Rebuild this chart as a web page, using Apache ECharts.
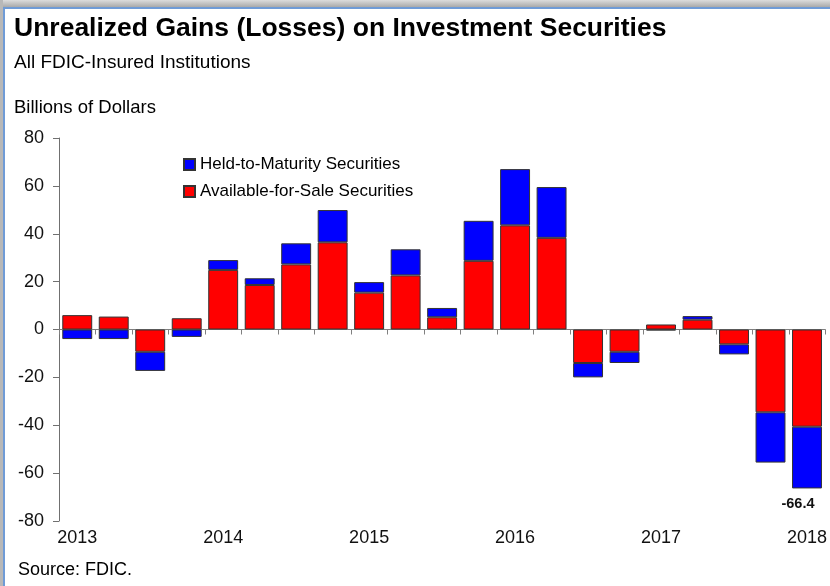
<!DOCTYPE html>
<html>
<head>
<meta charset="utf-8">
<script src="https://cdn.jsdelivr.net/npm/echarts@6/dist/echarts.min.js"></script>
<style>
  html, body { margin: 0; padding: 0; background: #fff; }
  #chart { width: 830px; height: 586px; }
</style>
</head>
<body>
<div id="chart"></div>
<script>
// Quarterly unrealized gains (losses), billions of dollars, 2013 Q1 – 2018 Q1
const quarters = [
  '2013 Q1', '2013 Q2', '2013 Q3', '2013 Q4',
  '2014 Q1', '2014 Q2', '2014 Q3', '2014 Q4',
  '2015 Q1', '2015 Q2', '2015 Q3', '2015 Q4',
  '2016 Q1', '2016 Q2', '2016 Q3', '2016 Q4',
  '2017 Q1', '2017 Q2', '2017 Q3', '2017 Q4',
  '2018 Q1'
];
const yearLabels = {
  '2013 Q1': '2013', '2014 Q1': '2014', '2015 Q1': '2015',
  '2016 Q1': '2016', '2017 Q1': '2017', '2018 Q1': '2018'
};
const availableForSale = [
  6.0, 5.4, -9.3, 4.7,
  24.9, 18.6, 27.2, 36.4,
  15.4, 22.6, 5.1, 28.7,
  43.5, 38.3, -14.0, -9.3,
  2.1, 4.1, -6.2, -34.6,
  -40.6
];
const heldToMaturity = [
  -4.0, -4.0, -8.0, -3.1,
  4.1, 2.8, 8.8, 13.5,
  4.4, 10.9, 3.9, 16.7,
  23.5, 21.2, -6.0, -4.7,
  -0.4, 1.5, -4.2, -21.0,
  -25.8
];
// Only the latest quarter carries a total label
const labelledIndex = 20;

const FONT = '"Liberation Sans", Arial, sans-serif';
const chart = echarts.init(document.getElementById('chart'), null, { renderer: 'canvas' });

const barBorder = { borderColor: '#333', borderWidth: 1 };

chart.setOption({
  backgroundColor: '#fff',
  animation: false,
  textStyle: { fontFamily: FONT },
  graphic: [
    // window frame
    { type: 'rect', shape: { x: 0, y: 0, width: 830, height: 7 },
      style: { fill: new echarts.graphic.LinearGradient(0, 0, 0, 1, [
        { offset: 0, color: '#dcdcdc' }, { offset: 1, color: '#a9a9a9' }]) }, silent: true },
    { type: 'rect', shape: { x: 0, y: 7, width: 830, height: 2 }, style: { fill: '#6f9bd6' }, silent: true },
    { type: 'rect', shape: { x: 0, y: 0, width: 3, height: 586 }, style: { fill: '#b8b8b8' }, silent: true },
    { type: 'rect', shape: { x: 3, y: 7, width: 2, height: 579 }, style: { fill: '#6f9bd6' }, silent: true },
    // headings
    { type: 'text', left: 14, top: 15,
      style: { text: 'Unrealized Gains (Losses) on Investment Securities',
        font: 'bold 26.5px ' + FONT, fill: '#000' } },
    { type: 'text', left: 14, top: 53,
      style: { text: 'All FDIC-Insured Institutions', font: '19px ' + FONT, fill: '#000' } },
    { type: 'text', left: 14, top: 98,
      style: { text: 'Billions of Dollars', font: '18.5px ' + FONT, fill: '#000' } },
    { type: 'text', left: 18, top: 561,
      style: { text: 'Source: FDIC.', font: '18px ' + FONT, fill: '#000' } }
  ],
  legend: {
    data: ['Held-to-Maturity Securities', 'Available-for-Sale Securities'],
    orient: 'vertical',
    left: 178,
    top: 151,
    itemWidth: 11,
    itemHeight: 11,
    itemGap: 10,
    icon: 'rect',
    selectedMode: false,
    textStyle: { fontSize: 17, color: '#000', fontFamily: FONT }
  },
  grid: { left: 59, right: 4, top: 138, bottom: 65, containLabel: false },
  xAxis: [
    {
      type: 'category',
      data: quarters,
      position: 'bottom',
      axisLine: { show: false, onZero: false },
      axisTick: { show: false },
      axisLabel: {
        interval: 3,
        margin: 8,
        fontSize: 18,
        color: '#111',
        fontFamily: FONT,
        formatter: v => yearLabels[v] || ''
      },
      splitLine: { show: false }
    },
    {
      type: 'category',
      data: quarters,
      position: 'bottom',
      axisLine: { show: true, onZero: true, lineStyle: { color: '#808080', width: 1 } },
      axisTick: { show: true, interval: 0, length: 5, lineStyle: { color: '#808080' } },
      axisLabel: { show: false },
      splitLine: { show: false }
    }
  ],
  yAxis: {
    type: 'value',
    min: -80,
    max: 80,
    interval: 20,
    axisLine: { show: true, lineStyle: { color: '#707070', width: 1 } },
    axisTick: { show: true, length: 6, lineStyle: { color: '#707070' } },
    axisLabel: { fontSize: 18, color: '#111', margin: 15, fontFamily: FONT },
    splitLine: { show: false }
  },
  series: [
    {
      name: 'Available-for-Sale Securities',
      type: 'bar',
      stack: 'gains',
      barCategoryGap: '18%',
      itemStyle: Object.assign({ color: '#ff0000' }, barBorder),
      data: availableForSale
    },
    {
      name: 'Held-to-Maturity Securities',
      type: 'bar',
      stack: 'gains',
      barCategoryGap: '18%',
      itemStyle: Object.assign({ color: '#0000ff' }, barBorder),
      data: heldToMaturity.map((v, i) => i === labelledIndex ? {
        value: v,
        label: {
          show: true,
          position: 'bottom',
          distance: 8,
          offset: [-9, 0],
          fontSize: 14.5,
          fontWeight: 'bold',
          color: '#111',
          fontFamily: FONT,
          formatter: () => (availableForSale[i] + heldToMaturity[i]).toFixed(1)
        }
      } : v)
    }
  ]
});
</script>
</body>
</html>
